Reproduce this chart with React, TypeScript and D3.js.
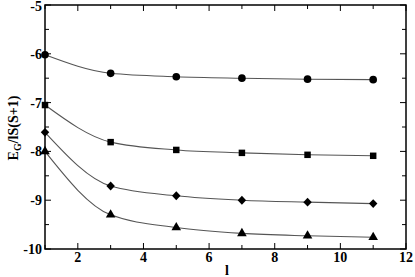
import React from "react";
import * as d3 from "d3";

const xValues = [1, 3, 5, 7, 9, 11];
const circleSeries = [-6.02, -6.4, -6.47, -6.5, -6.52, -6.53];
const squareSeries = [-7.05, -7.81, -7.97, -8.03, -8.07, -8.09];
const diamondSeries = [-7.61, -8.71, -8.91, -9.0, -9.04, -9.07];
const triangleSeries = [-8.0, -9.3, -9.56, -9.68, -9.73, -9.76];
const xTicks = [2, 4, 6, 8, 10, 12];
const yTicks = [-10, -9, -8, -7, -6, -5];

const W = 415, H = 277;
const left = 45, right = 406, top = 5, bottom = 249;

const wideDiamond: d3.SymbolType = {
  draw(ctx, size) {
    const h = Math.sqrt(size / 2) * 1.05;
    const w = h * 0.95;
    ctx.moveTo(0, -h);
    ctx.lineTo(w, 0);
    ctx.lineTo(0, h);
    ctx.lineTo(-w, 0);
    ctx.closePath();
  },
};

export default function App() {
  const x = d3.scaleLinear().domain([1, 12]).range([left, right]);
  const y = d3.scaleLinear().domain([-10, -5]).range([bottom, top]);
  const line = d3
    .line<number>()
    .x((_, i) => x(xValues[i]))
    .y((d) => y(d))
    .curve(d3.curveMonotoneX);

  const series = [
    { vals: circleSeries, sym: d3.symbolCircle, size: 46 },
    { vals: squareSeries, sym: d3.symbolSquare, size: 42 },
    { vals: diamondSeries, sym: wideDiamond, size: 36 },
    { vals: triangleSeries, sym: d3.symbolTriangle, size: 40 },
  ];

  const minorX = d3.range(1, 13, 1);
  const minorY = d3.range(-10, -4.9, 0.5);
  const font = "'Liberation Serif', 'Times New Roman', serif";

  return (
    <svg
      width={W}
      height={H}
      style={{ position: "fixed", left: 0, top: 0, background: "#fff" }}
    >
      {series.map((s, k) => (
        <g key={k}>
          <path d={line(s.vals) || ""} fill="none" stroke="#555" strokeWidth={1.1} />
          {s.vals.map((v, i) => (
            <path
              key={i}
              transform={`translate(${x(xValues[i])},${y(v)})`}
              d={d3.symbol().type(s.sym).size(s.size)() || ""}
              fill="#000"
            />
          ))}
        </g>
      ))}
      <g stroke="#000" strokeWidth={1}>
        {minorX.map((t) => {
          const len = t % 2 === 0 ? 6 : 4;
          return (
            <g key={"x" + t}>
              <line x1={x(t)} x2={x(t)} y1={bottom} y2={bottom - len} />
              <line x1={x(t)} x2={x(t)} y1={top} y2={top + len} />
            </g>
          );
        })}
        {minorY.map((t) => {
          const len = Math.abs(t - Math.round(t)) < 0.01 ? 6 : 4;
          return (
            <g key={"y" + t}>
              <line x1={left} x2={left + len} y1={y(t)} y2={y(t)} />
              <line x1={right} x2={right - len} y1={y(t)} y2={y(t)} />
            </g>
          );
        })}
      </g>
      <rect
        x={left}
        y={top}
        width={right - left}
        height={bottom - top}
        fill="none"
        stroke="#000"
        strokeWidth={1.5}
      />
      <g fontFamily={font} fontWeight="bold" fontSize={14} fill="#000">
        {xTicks.map((t) => (
          <text key={t} x={x(t)} y={262} textAnchor="middle">
            {t}
          </text>
        ))}
        {yTicks.map((t) => (
          <text key={t} x={42} y={Math.max(y(t) + 5, 10.5)} textAnchor="end">
            {t}
          </text>
        ))}
        <text x={227} y={275} textAnchor="middle">l</text>
        <text transform={`translate(18,128) rotate(-90)`} textAnchor="middle">
          E<tspan fontSize={10} dy={3}>G</tspan>
          <tspan dy={-3}>/lS(S+1)</tspan>
        </text>
      </g>
    </svg>
  );
}
